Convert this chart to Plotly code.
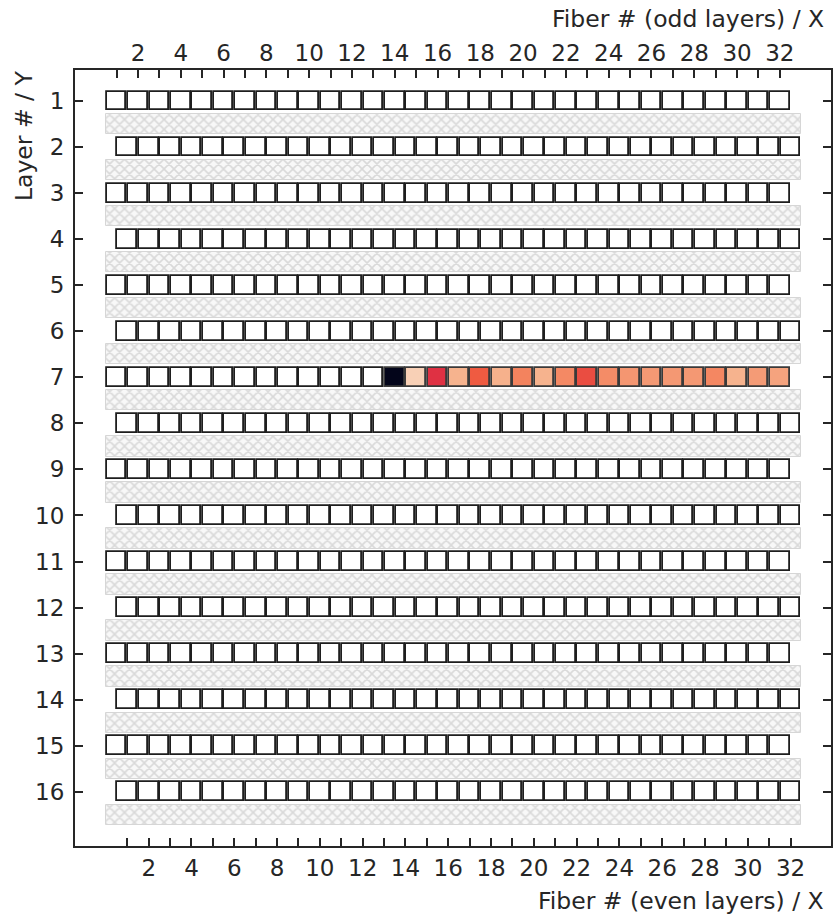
import plotly.graph_objects as go

# ---- data ----
layers = list(range(1, 17))
fibers = list(range(1, 33))
hit_layer = 7
hit_fibers = [14, 15, 16, 17, 18, 19, 20, 21, 22, 23, 24, 25, 26, 27, 28, 29, 30, 31, 32]
hit_values = [100, 4.1, 42.5, 8.5, 33.3, 9.0, 21.5, 8.5, 20.0, 36.3, 19.0, 16.5, 15.5, 16.0, 16.0, 20.5, 8.5, 15.0, 13.0]
tick_labels = [str(f) if f % 2 == 0 else "" for f in fibers]
layer_labels = [str(l) for l in layers]

# seaborn "rocket_r"-like colorscale
rocket_pts = [(0.0, "#03051a"), (0.083, "#35193e"), (0.25, "#701f57"), (0.417, "#ad1759"),
              (0.5, "#cb1b4f"), (0.583, "#e13342"), (0.667, "#ef5b41"), (0.75, "#f37651"),
              (0.833, "#f49570"), (0.917, "#f6b48f"), (1.0, "#faebdd")]
rocket_r = sorted([(round(1 - t, 4), c) for t, c in rocket_pts])

SQ_W = 0.92
SQ_H = 0.41
BAND_H = 0.44
EDGE = "#1e1e1e"
AX = "#262626"
FONT = "DejaVu Sans"

fig = go.Figure()

# hatched bands between layers
fig.add_trace(go.Bar(
    orientation="h",
    y=[l + 0.5 for l in layers],
    base=[0.5] * len(layers),
    x=[32.5] * len(layers),
    width=BAND_H,
    marker=dict(color="white",
                line=dict(color="#d6d6d6", width=1),
                pattern=dict(shape="x", fgcolor="#bababa", bgcolor="#f8f8f8", size=7, solidity=0.4)),
    hoverinfo="skip",
))

# empty fibers (white squares)
ey, eb = [], []
for l in layers:
    off = 0.5 if l % 2 == 0 else 0.0
    for f in fibers:
        if l == hit_layer and f in hit_fibers:
            continue
        ey.append(l)
        eb.append(f + off - SQ_W / 2)
fig.add_trace(go.Bar(
    orientation="h", y=ey, base=eb, x=[SQ_W] * len(ey), width=SQ_H,
    marker=dict(color="white", line=dict(color=EDGE, width=1.8)),
    hoverinfo="skip",
))

# hit fibers (colored)
hoff = 0.5 if hit_layer % 2 == 0 else 0.0
fig.add_trace(go.Bar(
    orientation="h",
    y=[hit_layer] * len(hit_fibers),
    base=[f + hoff - SQ_W / 2 for f in hit_fibers],
    x=[SQ_W] * len(hit_fibers),
    width=SQ_H,
    marker=dict(color=hit_values, colorscale=rocket_r, cmin=0, cmax=100,
                line=dict(color="#3a3a3a", width=1.8)),
    hoverinfo="skip",
))

# dummy trace for top axis
fig.add_trace(go.Scatter(x=[1], y=[1], xaxis="x2", mode="markers",
                         marker=dict(opacity=0), hoverinfo="skip"))

XR = [-0.944, 34.39]
YR = [17.178, 0.327]
tickfont = dict(family=FONT, size=23, color=AX)
titlefont = dict(family=FONT, size=23.5, color=AX)

fig.update_layout(
    width=839, height=916,
    margin=dict(l=75, r=6, t=70, b=70),
    plot_bgcolor="white", paper_bgcolor="white",
    showlegend=False, barmode="overlay", bargap=0,
    xaxis=dict(range=XR, tickvals=[f + 0.5 for f in fibers], ticktext=tick_labels,
               ticks="inside", ticklen=8, tickwidth=1.5, tickcolor=AX,
               showline=True, linecolor=AX, linewidth=2, showgrid=False, zeroline=False,
               tickfont=tickfont, ticklabelstandoff=0),
    xaxis2=dict(range=XR, overlaying="x", side="top", tickvals=fibers, ticktext=tick_labels,
                ticks="inside", ticklen=8, tickwidth=1.5, tickcolor=AX,
                showline=True, linecolor=AX, linewidth=2, showgrid=False, zeroline=False,
                tickfont=tickfont, ticklabelstandoff=-2),
    yaxis=dict(range=YR, tickvals=layers, ticktext=layer_labels,
               ticks="inside", ticklen=8, tickwidth=1.5, tickcolor=AX, mirror="ticks",
               showline=True, linecolor=AX, linewidth=2, showgrid=False, zeroline=False,
               tickfont=tickfont, ticklabelstandoff=4),
    annotations=[
        dict(text="Fiber # (odd layers) / X", xref="paper", yref="paper", x=0.9934, y=1.066,
             xanchor="right", yanchor="middle", showarrow=False, font=titlefont),
        dict(text="Fiber # (even layers) / X", xref="paper", yref="paper", x=0.9934, y=-0.0715,
             xanchor="right", yanchor="middle", showarrow=False, font=titlefont),
        dict(text="Layer # / Y", xref="paper", yref="paper", x=-0.0673, y=0.915,
             xanchor="center", yanchor="middle", textangle=-90, showarrow=False, font=titlefont),
    ],
)

fig.write_html("out.html")
